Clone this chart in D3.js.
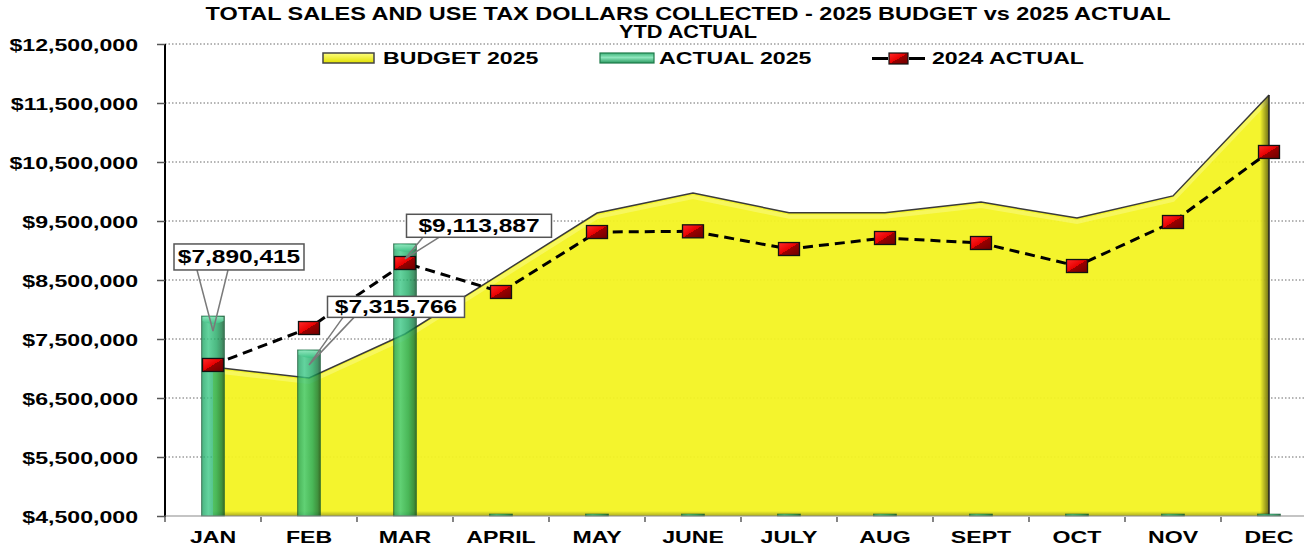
<!DOCTYPE html>
<html>
<head>
<meta charset="utf-8">
<script src="https://cdn.jsdelivr.net/npm/d3@7"></script>
<style>
  body { margin: 0; background: #fff; }
  svg { display: block; font-family: Arial, "Liberation Sans", sans-serif; }
</style>
</head>
<body>
<div id="chart"></div>
<script>
  // chart values
  var months = ["JAN", "FEB", "MAR", "APRIL", "MAY", "JUNE", "JULY", "AUG", "SEPT", "OCT", "NOV", "DEC"];
  var budget2025 = [7025000, 6840000, 7585000, 8610000, 9635000, 9975000, 9640000, 9640000, 9820000, 9550000, 9925000, 11635000];
  var actual2025 = [7890415, 7315766, 9113887, 0, 0, 0, 0, 0, 0, 0, 0, 0];
  var actual2024 = [7060000, 7686000, 8788000, 8297000, 9313000, 9325000, 9025000, 9212000, 9127000, 8737000, 9483000, 10670000];
  var yTicks = [4500000, 5500000, 6500000, 7500000, 8500000, 9500000, 10500000, 11500000, 12500000];
  var legendLabels = ["BUDGET 2025", "ACTUAL 2025", "2024 ACTUAL"];
  var titleLines = ["TOTAL SALES AND USE TAX DOLLARS COLLECTED - 2025 BUDGET vs 2025 ACTUAL", "YTD ACTUAL"];

  // callout placement for the labelled bars: box centre offset and base of the pointer
  var callouts = [
      { i: 0, dx: 26, dy: -59, w: 130, h: 26, b1: -42, b2: -11 },
      { i: 1, dx: 87, dy: -43, w: 137, h: 21, b1: -53, b2: -42 },
      { i: 2, dx: 74, dy: -18, w: 145, h: 23, b1: -56, b2: -40 }
  ];

  var W = 1304, H = 549;
  var stretch = 1.36; // the picture's text is drawn wide

  var svg = d3.select("#chart")
      .append("svg")
      .attr("width", W)
      .attr("height", H);

  var defs = svg.append("defs");

  // bar gradient (left to right)
  var bg = defs.append("linearGradient").attr("id", "barGrad");
  [["0%", "#0b5530"], ["6%", "#22a868"], ["30%", "#3cc886"], ["65%", "#1fa862"], ["88%", "#137a42"], ["100%", "#084722"]]
      .forEach(function (s) { bg.append("stop").attr("offset", s[0]).attr("stop-color", s[1]); });

  var cg = defs.append("linearGradient").attr("id", "capGrad").attr("x2", 0).attr("y2", 1);
  cg.append("stop").attr("offset", "0%").attr("stop-color", "#8fe6bd");
  cg.append("stop").attr("offset", "100%").attr("stop-color", "#3cc184");

  // red marker: bright top-left, dark bottom-right
  var mg = defs.append("linearGradient").attr("id", "markGrad")
      .attr("x1", 0).attr("y1", 0).attr("x2", 1).attr("y2", 1);
  [["0%", "#ff2a2a"], ["50%", "#e80000"], ["50%", "#9a0000"], ["100%", "#6e0000"]]
      .forEach(function (s) { mg.append("stop").attr("offset", s[0]).attr("stop-color", s[1]); });

  var sg = defs.append("linearGradient").attr("id", "edgeShade");
  sg.append("stop").attr("offset", "0%").attr("stop-color", "#000").attr("stop-opacity", 0);
  sg.append("stop").attr("offset", "100%").attr("stop-color", "#000").attr("stop-opacity", 0.55);

  var bs = defs.append("linearGradient").attr("id", "bottomShade").attr("x2", 0).attr("y2", 1);
  bs.append("stop").attr("offset", "0%").attr("stop-color", "#000").attr("stop-opacity", 0);
  bs.append("stop").attr("offset", "100%").attr("stop-color", "#000").attr("stop-opacity", 0.3);

  var lg1 = defs.append("linearGradient").attr("id", "legYellow").attr("x2", 0).attr("y2", 1);
  lg1.append("stop").attr("offset", "0%").attr("stop-color", "#ffff80");
  lg1.append("stop").attr("offset", "100%").attr("stop-color", "#e0e000");
  var lg2 = defs.append("linearGradient").attr("id", "legGreen").attr("x2", 0).attr("y2", 1);
  lg2.append("stop").attr("offset", "0%").attr("stop-color", "#3fb47a");
  lg2.append("stop").attr("offset", "45%").attr("stop-color", "#8fe6bd");
  lg2.append("stop").attr("offset", "100%").attr("stop-color", "#2a9a60");

  // scales
  var x = d3.scaleBand()
      .domain(months)
      .range([165, 165 + 96 * 12])
      .padding(0);
  var y = d3.scaleLinear()
      .domain([4500000, 12500000])
      .range([516, 44]);
  var cx = function (i) { return x(months[i]) + x.bandwidth() / 2; };

  // dotted gridlines
  svg.append("g")
      .selectAll("line")
      .data(yTicks.slice(1))
      .enter()
      .append("line")
      .attr("x1", 165).attr("x2", W)
      .attr("y1", function (d) { return y(d); })
      .attr("y2", function (d) { return y(d); })
      .attr("stroke", "#6a6a6a")
      .attr("stroke-width", 1)
      .attr("stroke-dasharray", "1.5,2");

  // budget area
  var area = d3.area()
      .x(function (d, i) { return cx(i); })
      .y0(y(4500000))
      .y1(function (d) { return y(d); });
  var line = d3.line()
      .x(function (d, i) { return cx(i); })
      .y(function (d) { return y(d); });

  defs.append("clipPath").attr("id", "areaClip")
      .append("path").attr("d", area(budget2025));

  svg.append("path")
      .attr("d", area(budget2025))
      .attr("fill", "#f3f320")
      .attr("fill-opacity", 0.94);

  var shade = svg.append("g").attr("clip-path", "url(#areaClip)");
  // soft highlight under the top edge
  shade.append("path")
      .attr("d", line(budget2025))
      .attr("transform", "translate(0,4)")
      .attr("fill", "none")
      .attr("stroke", "#fbfb9a")
      .attr("stroke-width", 4)
      .attr("opacity", 0.45);
  shade.append("rect")
      .attr("x", cx(11) - 9).attr("y", 0)
      .attr("width", 9).attr("height", H)
      .attr("fill", "url(#edgeShade)");
  shade.append("rect")
      .attr("x", 0).attr("y", y(4500000) - 5)
      .attr("width", W).attr("height", 5)
      .attr("fill", "url(#bottomShade)");

  svg.append("path")
      .attr("d", line(budget2025))
      .attr("fill", "none")
      .attr("stroke", "#3a3a3a")
      .attr("stroke-width", 1.5);
  svg.append("line")
      .attr("x1", cx(11)).attr("x2", cx(11))
      .attr("y1", y(budget2025[11])).attr("y2", y(4500000))
      .attr("stroke", "#222").attr("stroke-width", 1.5);

  // 2025 actual bars
  var bw = 23;
  var bars = svg.append("g")
      .selectAll("g")
      .data(actual2025)
      .enter()
      .append("g");

  bars.append("rect")
      .attr("x", function (d, i) { return cx(i) - bw / 2; })
      .attr("y", function (d) { return d > 0 ? y(d) : y(4500000) - 2; })
      .attr("width", bw)
      .attr("height", function (d) { return d > 0 ? y(4500000) - y(d) : 2; })
      .attr("fill", "url(#barGrad)")
      .attr("fill-opacity", 0.8)
      .attr("stroke", "#0f5a32")
      .attr("stroke-opacity", 0.6)
      .attr("stroke-width", 0.8);

  bars.filter(function (d) { return d > 0; })
      .append("path")
      .attr("d", function (d, i) {
          var x0 = cx(i) - bw / 2 + 1, x1 = cx(i) + bw / 2 - 1, t = y(d) + 1;
          return "M" + x0 + "," + t + "H" + x1 + "V" + (t + 4) +
              "Q" + cx(i) + "," + (t + 10) + " " + x0 + "," + (t + 4) + "Z";
      })
      .attr("fill", "url(#capGrad)")
      .attr("opacity", 0.9);

  // y axis
  var yAxis = svg.append("g")
      .attr("transform", "translate(165,0)")
      .call(d3.axisLeft(y).tickValues(yTicks).tickFormat(d3.format("$,.0f")).tickSize(8));
  yAxis.select(".domain").attr("stroke", "#000").attr("stroke-width", 2).attr("d", "M0,44V517");
  yAxis.selectAll(".tick line").attr("stroke", "#555").attr("stroke-width", 1.5);
  yAxis.selectAll("text")
      .attr("x", -27 / stretch)
      .attr("dy", "0.36em")
      .attr("transform", "scale(" + stretch + ",1)")
      .style("font-size", "17px")
      .style("font-weight", "bold")
      .attr("fill", "#000");

  // x axis
  var xAxis = svg.append("g")
      .attr("transform", "translate(0,516)")
      .call(d3.axisBottom(x).tickSize(0).tickPadding(0));
  xAxis.select(".domain").attr("stroke", "#8a8a8a").attr("stroke-width", 1.2).attr("d", "M165,0H" + W);
  xAxis.selectAll(".tick text")
      .attr("y", 27)
      .attr("dy", 0)
      .attr("transform", "scale(" + stretch + ",1)")
      .style("font-size", "17px")
      .style("font-weight", "bold")
      .attr("fill", "#000");
  xAxis.append("g")
      .selectAll("line")
      .data(months)
      .enter()
      .append("line")
      .attr("x1", function (d) { return x(d); })
      .attr("x2", function (d) { return x(d); })
      .attr("y1", 1).attr("y2", 6)
      .attr("stroke", "#333").attr("stroke-width", 1.2);

  // 2024 actual dashed line with square markers
  svg.append("path")
      .attr("d", line(actual2024))
      .attr("fill", "none")
      .attr("stroke", "#000")
      .attr("stroke-width", 3)
      .attr("stroke-dasharray", "10,6");

  svg.append("g")
      .selectAll("rect")
      .data(actual2024)
      .enter()
      .append("rect")
      .attr("x", function (d, i) { return cx(i) - 10.5; })
      .attr("y", function (d) { return y(d) - 6.5; })
      .attr("width", 21)
      .attr("height", 13)
      .attr("fill", "url(#markGrad)")
      .attr("stroke", "#111")
      .attr("stroke-width", 1.3);

  // callout labels on the 2025 bars
  var co = svg.append("g")
      .selectAll("g")
      .data(callouts)
      .enter()
      .append("g");

  co.append("path")
      .attr("d", function (c) {
          var v = actual2025[c.i], bx = cx(c.i) + c.dx, tipY = y(v) + 15;
          var baseY = y(v) + c.dy + c.h / 2;
          return "M" + (bx + c.b1) + "," + baseY + "L" + cx(c.i) + "," + tipY +
              "L" + (bx + c.b2) + "," + baseY;
      })
      .attr("fill", "none")
      .attr("stroke", "#7a7a7a")
      .attr("stroke-width", 1.5);

  co.append("rect")
      .attr("x", function (c) { return cx(c.i) + c.dx - c.w / 2; })
      .attr("y", function (c) { return y(actual2025[c.i]) + c.dy - c.h / 2; })
      .attr("width", function (c) { return c.w; })
      .attr("height", function (c) { return c.h; })
      .attr("fill", "#fff")
      .attr("stroke", "#555")
      .attr("stroke-width", 1.5);

  co.append("text")
      .attr("transform", function (c) {
          return "translate(" + (cx(c.i) + c.dx) + "," + (y(actual2025[c.i]) + c.dy + 6.5) + ") scale(" + stretch + ",1)";
      })
      .attr("text-anchor", "middle")
      .style("font-size", "18px")
      .style("font-weight", "bold")
      .text(function (c) { return d3.format("$,.0f")(actual2025[c.i]); });

  // legend
  var legend = svg.append("g");
  legend.append("rect")
      .attr("x", 323).attr("y", 53).attr("width", 51).attr("height", 10)
      .attr("fill", "url(#legYellow)").attr("stroke", "#444").attr("stroke-width", 1.5);
  legend.append("rect")
      .attr("x", 600).attr("y", 53).attr("width", 54).attr("height", 10)
      .attr("fill", "url(#legGreen)").attr("stroke", "#1e7a4a").attr("stroke-width", 1.2);
  legend.append("line")
      .attr("x1", 872).attr("x2", 927).attr("y1", 58.5).attr("y2", 58.5)
      .attr("stroke", "#000").attr("stroke-width", 3).attr("stroke-dasharray", "16,21");
  legend.append("rect")
      .attr("x", 889).attr("y", 53).attr("width", 19).attr("height", 11)
      .attr("fill", "url(#markGrad)").attr("stroke", "#111").attr("stroke-width", 1.2);

  legend.selectAll("text")
      .data(legendLabels)
      .enter()
      .append("text")
      .attr("transform", function (d, i) { return "translate(" + [383, 659, 932][i] + ",64) scale(" + stretch + ",1)"; })
      .style("font-size", "17px")
      .style("font-weight", "bold")
      .text(function (d) { return d; });

  // title
  svg.selectAll(".title")
      .data(titleLines)
      .enter()
      .append("text")
      .attr("class", "title")
      .attr("x", 688)
      .attr("y", function (d, i) { return 20 + i * 18; })
      .attr("text-anchor", "middle")
      .attr("textLength", function (d, i) { return i === 0 ? 965 : 138; })
      .attr("lengthAdjust", "spacingAndGlyphs")
      .style("font-family", "'Liberation Sans Narrow', 'Arial Narrow', Arial, sans-serif")
      .style("font-size", "18px")
      .style("font-weight", "bold")
      .text(function (d) { return d; });
</script>
</body>
</html>
